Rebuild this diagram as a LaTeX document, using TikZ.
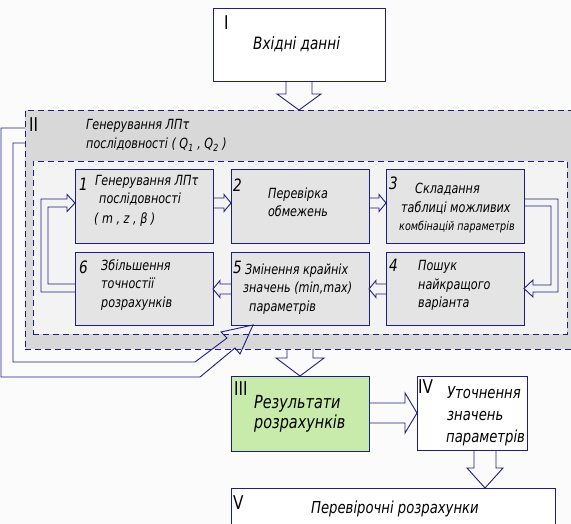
\documentclass[tikz,border=0pt]{standalone}
\usepackage{fontspec}
\setmainfont{DejaVu Sans}[FakeStretch=0.8]
\usetikzlibrary{calc}
\definecolor{nav}{RGB}{30,30,130}
\definecolor{grtwo}{RGB}{216,216,216}
\definecolor{grone}{RGB}{243,243,243}
\definecolor{boxg}{RGB}{228,228,228}
\definecolor{grn}{RGB}{200,234,170}
\definecolor{bgc}{RGB}{251,251,251}
\newcommand\fsz[1]{\fontsize{#1}{#1}\selectfont}
% hollow block arrow: #1 start, #2 tip, #3 half shaft, #4 half head, #5 head length
\newcommand\blockarrow[5]{%
  \coordinate (bac) at ($(#2)!#5!(#1)$);
  \draw[ln] ($(#1)!#3!90:(#2)$) -- ($(bac)!#3!-90:(#1)$) -- ($(bac)!#4!-90:(#1)$) -- (#2)
    -- ($(bac)!#4!90:(#1)$) -- ($(bac)!#3!90:(#1)$) -- ($(#1)!#3!-90:(#2)$);}
\begin{document}
\begin{tikzpicture}[x=1pt,y=-1pt,
  ln/.style={draw=nav,line width=0.9pt,line join=miter},
  dsh/.style={ln,dash pattern=on 6pt off 4pt},
  area/.style={rectangle,inner sep=0,outer sep=0,anchor=north west},
  box/.style={area,ln,fill=boxg},
  txt/.style={inner sep=0,anchor=base west,font=\itshape\fsz{14}},
  ctxt/.style={txt,anchor=base},
  num/.style={inner sep=0,anchor=base west,font=\upshape\fsz{19}},
  dig/.style={inner sep=0,anchor=base west,font=\itshape\fsz{17}}]
\useasboundingbox (0,0) rectangle (571,524);
\clip (0,0) rectangle (571,524);
\fill[bgc] (0,0) rectangle (571,524);

% containers
\node[area,dsh,fill=grtwo,minimum width=565pt,minimum height=239pt] (II) at (25,110) {};
\node[area,dsh,fill=grone,minimum width=534pt,minimum height=173pt] (inner) at (33,161) {};

% boxes
\node[area,ln,fill=white,minimum width=172pt,minimum height=73pt] (bI) at (213,8) {};
\node[box,minimum width=138pt,minimum height=74pt] (b1) at (75,169) {};
\node[box,minimum width=138pt,minimum height=74pt] (b2) at (231,169) {};
\node[box,minimum width=138pt,minimum height=74pt] (b3) at (386,169) {};
\node[box,minimum width=138pt,minimum height=73pt] (b6) at (75,252) {};
\node[box,minimum width=138pt,minimum height=73pt] (b5) at (231,252) {};
\node[box,minimum width=138pt,minimum height=73pt] (b4) at (386,252) {};
\node[area,ln,fill=grn,minimum width=138pt,minimum height=75pt] (bIII) at (231,376) {};
\node[area,ln,fill=white,minimum width=110pt,minimum height=74pt] (bIV) at (417,376) {};
\node[area,ln,fill=white,minimum width=324pt,minimum height=50pt] (bV) at (231,488) {};

% block arrows
\coordinate (p1) at (bI.south);
\coordinate (p1t) at (bI.south |- II.north);
\blockarrow{p1}{p1t}{13pt}{22pt}{16pt}
\coordinate (p2) at (b1.east |- 0,203);
\coordinate (p2t) at (b2.west |- 0,203);
\blockarrow{p2}{p2t}{5pt}{8.5pt}{7pt}
\coordinate (p3) at (b2.east |- 0,203);
\coordinate (p3t) at (b3.west |- 0,203);
\blockarrow{p3}{p3t}{5pt}{8.5pt}{7pt}
\coordinate (p4) at (b4.west |- 0,289);
\coordinate (p4t) at (b5.east |- 0,289);
\blockarrow{p4}{p4t}{5pt}{8.5pt}{7pt}
\coordinate (p5) at (b5.west |- 0,289);
\coordinate (p5t) at (b6.east |- 0,289);
\blockarrow{p5}{p5t}{5pt}{8.5pt}{7pt}
\coordinate (p6) at (bIII.north |- II.south);
\coordinate (p6t) at (bIII.north);
\blockarrow{p6}{p6t}{13pt}{24pt}{18pt}
\coordinate (p7) at (bIII.east |- 0,413);
\coordinate (p7t) at (bIV.west |- 0,413);
\blockarrow{p7}{p7t}{10pt}{20pt}{12pt}
\coordinate (p8) at ($(bIV.south)+(13,0)$);
\coordinate (p8t) at (p8 |- bV.north);
\blockarrow{p8}{p8t}{11pt}{18pt}{20pt}

% feedback loops
\draw[ln] (b3.east |- 0,199) -- (558,199) -- (558,292) -- (533,292) -- (533,297)
  -- (b4.east |- 0,288.5) -- (533,280) -- (533,285) -- (551,285) -- (551,206) -- (b3.east |- 0,206);
\draw[ln] (b6.west |- 0,292) -- (41,292) -- (41,199) -- (67,199) -- (67,194.5)
  -- (b1.west |- 0,203) -- (67,211.5) -- (67,207) -- (48,207) -- (48,284) -- (b6.west |- 0,284);
\coordinate (tip) at ($(b5.south west)+(22,0)$);
\draw[ln] (II.west |- 0,128) -- (1,128) -- (1,377) -- (200,377) -- (235,348) -- (240,354)
  -- (tip) -- (221,332) -- (227,338) -- (195,362) -- (13,362) -- (13,143) -- (II.west |- 0,143);

% texts
\node[num] (tI) at (224,30) {I};
\node[txt,font=\itshape\fsz{17}] (tI1) at (253,50) {Вхідні данні};

\node[num] (tII) at (29,132) {II};
\node[txt] (tII1) at (86,130) {Генерування ЛПτ};
\node[txt] (tII2) at (86,149) {послідовності ( Q\textsubscript{1} , Q\textsubscript{2} )};

\node[dig] (n1) at (79,191) {1};
\node[txt] (t11) at (95,186) {Генерування ЛПτ};
\node[txt] (t12) at (99,204) {послідовності};
\node[txt] (t13) at (94,224) {( m , z , β )};

\node[dig] (n2) at (233,192) {2};
\node[ctxt] (t21) at (298,199) {Перевірка};
\node[ctxt] (t22) at (298,217) {обмежень};

\node[dig] (n3) at (389,190) {3};
\node[txt] (t31) at (415,194) {Складання};
\node[txt] (t32) at (401,213) {таблиці можливих};
\node[txt,font=\itshape\fsz{12}] (t33) at (399,231) {комбінацій параметрів};

\node[dig] (n4) at (389,272) {4};
\node[txt] (t41) at (418,271) {Пошук};
\node[txt] (t42) at (418,289) {найкращого};
\node[txt] (t43) at (418,307) {варіанта};

\node[dig] (n5) at (233,273) {5};
\node[txt] (t51) at (245,275) {Змінення крайніх};
\node[txt] (t52) at (243,293) {значень (min,max)};
\node[txt] (t53) at (249,312) {параметрів};

\node[dig] (n6) at (79,273) {6};
\node[txt] (t61) at (101,270) {Збільшення};
\node[txt] (t62) at (101,288) {точностії};
\node[txt] (t63) at (101,307) {розрахунків};

\node[num] (tIII) at (234,395) {III};
\node[txt,font=\itshape\fsz{18}] (tIII1) at (254,408) {Результати};
\node[txt,font=\itshape\fsz{18}] (tIII2) at (254,428) {розрахунків};

\node[num] (tIV) at (418,393) {IV};
\node[txt,font=\itshape\fsz{16.5}] (tIV1) at (447,398) {Уточнення};
\node[txt,font=\itshape\fsz{16.5}] (tIV2) at (447,420) {значень};
\node[txt,font=\itshape\fsz{16.5}] (tIV3) at (446,442) {параметрів};

\node[num] (tV) at (233,509) {V};
\node[txt,font=\itshape\fsz{16.5}] (tV1) at (311,513) {Перевірочні розрахунки};
\end{tikzpicture}
\end{document}
